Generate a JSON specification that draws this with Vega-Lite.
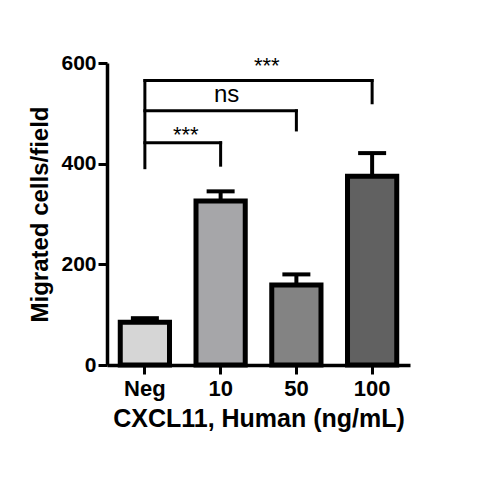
{
  "$schema": "https://vega.github.io/schema/vega-lite/v6.json",
  "autosize": "none",
  "width": 303,
  "height": 302,
  "padding": {"left": 107, "top": 63, "right": 70, "bottom": 115},
  "background": "white",
  "config": {
    "view": {"stroke": null},
    "font": "Liberation Sans"
  },
  "datasets": {
    "bars": [
      {"group": "Neg", "mean": 85, "upper": 93},
      {"group": "10", "mean": 326, "upper": 345},
      {"group": "50", "mean": 159, "upper": 180},
      {"group": "100", "mean": 375, "upper": 421}
    ],
    "brackets": [
      {"from": "Neg", "to": "Neg", "lo": 392, "hi": 565},
      {"from": "Neg", "to": "10", "lo": 441.5, "hi": 441.5},
      {"from": "10", "to": "10", "lo": 397, "hi": 441.5},
      {"from": "Neg", "to": "50", "lo": 505, "hi": 505},
      {"from": "50", "to": "50", "lo": 467, "hi": 505},
      {"from": "Neg", "to": "100", "lo": 565, "hi": 565},
      {"from": "100", "to": "100", "lo": 521, "hi": 565}
    ],
    "labels": [
      {"label": "***", "pos": 1.04, "y": 443},
      {"label": "ns", "pos": 1.58, "y": 523},
      {"label": "***", "pos": 2.11, "y": 580}
    ]
  },
  "layer": [
    {
      "layer": [
        {
          "data": {"name": "bars"},
          "mark": {"type": "rule", "color": "black", "strokeWidth": 4},
          "encoding": {
            "x": {"field": "group", "type": "nominal", "bandPosition": 0.5},
            "y": {"field": "mean", "type": "quantitative"},
            "y2": {"field": "upper"}
          }
        },
        {
          "data": {"name": "bars"},
          "mark": {"type": "tick", "orient": "horizontal", "color": "black", "size": 28, "thickness": 4, "opacity": 1},
          "encoding": {
            "x": {"field": "group", "type": "nominal", "bandPosition": 0.5},
            "y": {"field": "upper", "type": "quantitative"}
          }
        },
        {
          "data": {"name": "bars"},
          "mark": {"type": "bar", "stroke": "black", "strokeWidth": 5},
          "encoding": {
            "x": {
              "field": "group",
              "type": "nominal",
              "sort": ["Neg", "10", "50", "100"],
              "scale": {"domain": ["Neg", "10", "50", "100"], "paddingInner": 0.35, "paddingOuter": 0.175},
              "title": "CXCL11, Human (ng/mL)",
              "axis": {
                "labelAngle": 0,
                "labelAlign": "center",
                "labelBaseline": "top",
                "bandPosition": 0.5,
                "labelFont": "Liberation Sans",
                "labelFontSize": 22,
                "labelFontWeight": "bold",
                "labelColor": "black",
                "labelPadding": 4,
                "tickSize": 9,
                "tickWidth": 3,
                "tickColor": "black",
                "domainColor": "black",
                "domainWidth": 3.5,
                "titleFont": "Liberation Sans",
                "titleFontSize": 25,
                "titleFontWeight": "bold",
                "titleColor": "black",
                "titlePadding": 7
              }
            },
            "y": {
              "field": "mean",
              "type": "quantitative",
              "scale": {"domain": [0, 600], "nice": false},
              "title": "Migrated cells/field",
              "axis": {
                "values": [0, 200, 400, 600],
                "grid": false,
                "labelFont": "Liberation Sans",
                "labelFontSize": 21,
                "labelFontWeight": "bold",
                "labelColor": "black",
                "labelPadding": 2,
                "tickSize": 9,
                "tickWidth": 3,
                "tickColor": "black",
                "domainColor": "black",
                "domainWidth": 3.5,
                "titleFont": "Liberation Sans",
                "titleFontSize": 24,
                "titleFontWeight": "bold",
                "titleColor": "black",
                "titlePadding": 8
              }
            },
            "color": {
              "field": "group",
              "type": "nominal",
              "scale": {"domain": ["Neg", "10", "50", "100"], "range": ["#d6d6d6", "#a6a6a9", "#838383", "#616161"]},
              "legend": null
            }
          }
        },
        {
          "data": {"name": "brackets"},
          "mark": {"type": "rule", "color": "black", "strokeWidth": 3, "strokeCap": "square"},
          "encoding": {
            "x": {"field": "from", "type": "nominal", "bandPosition": 0.5},
            "x2": {"field": "to", "bandPosition": 0.5},
            "y": {"field": "lo", "type": "quantitative"},
            "y2": {"field": "hi"}
          }
        }
      ]
    },
    {
      "data": {"name": "labels"},
      "layer": [
        {
          "transform": [{"filter": "datum.label === '***'"}],
          "mark": {"type": "text", "font": "Liberation Sans", "fontSize": 22, "color": "black", "baseline": "alphabetic", "align": "center"},
          "encoding": {
            "x": {"field": "pos", "type": "quantitative", "scale": {"domain": [0, 4]}, "axis": null},
            "y": {"field": "y", "type": "quantitative"},
            "text": {"field": "label"}
          }
        },
        {
          "transform": [{"filter": "datum.label === 'ns'"}],
          "mark": {"type": "text", "font": "Liberation Sans", "fontSize": 24, "color": "black", "baseline": "alphabetic", "align": "center"},
          "encoding": {
            "x": {"field": "pos", "type": "quantitative", "scale": {"domain": [0, 4]}, "axis": null},
            "y": {"field": "y", "type": "quantitative"},
            "text": {"field": "label"}
          }
        }
      ]
    }
  ],
  "resolve": {"scale": {"x": "independent", "y": "shared"}}
}
